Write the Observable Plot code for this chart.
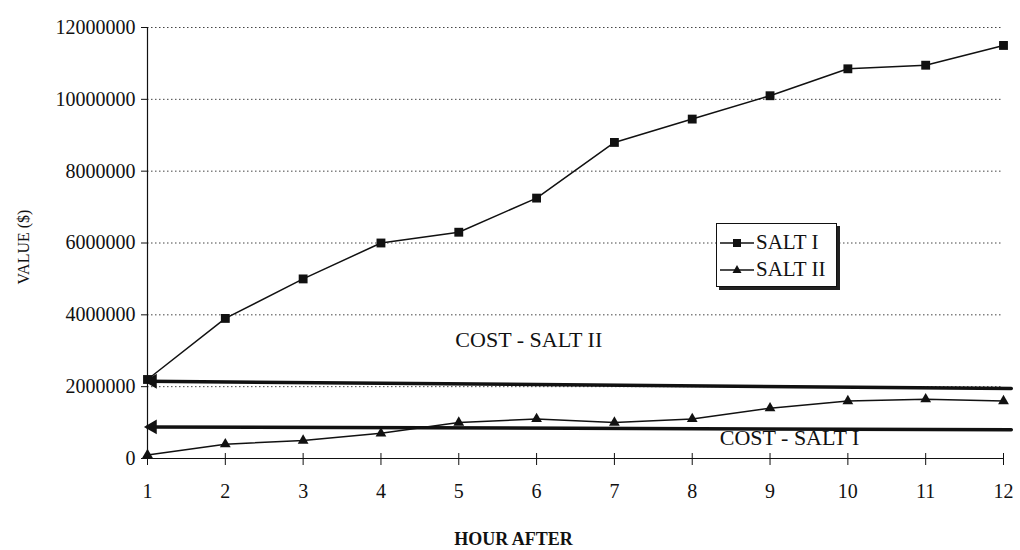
<!DOCTYPE html>
<html><head><meta charset="utf-8">
<script src="https://cdn.jsdelivr.net/npm/d3@7"></script>
<script src="https://cdn.jsdelivr.net/npm/@observablehq/plot@0.6"></script>
<style>
body{margin:0;background:#fff;}
#wrap{position:relative;width:1020px;height:550px;font-family:"Liberation Serif","Times New Roman",serif;color:#111;}
#legend{position:absolute;left:716px;top:223px;width:121px;height:64px;border:1.5px solid #111;background:#fff;box-shadow:3px 3px 0 #222;box-sizing:border-box;padding-top:5px;}
#legend .row{display:flex;align-items:center;height:27px;font-size:21px;padding-left:3px;}
#legend svg{margin-right:2px;}
</style></head>
<body><div id="wrap"></div>
<script>
const hours = [1,2,3,4,5,6,7,8,9,10,11,12];
const saltI = [2200000,3900000,5000000,6000000,6300000,7250000,8800000,9450000,10100000,10850000,10950000,11500000];
const saltII = [100000,400000,500000,700000,1000000,1100000,1000000,1100000,1400000,1600000,1650000,1600000];
const costHours = [1,12.1];
const costSaltII = [2150000,1950000];
const costSaltI = [880000,800000];
const yTicks = [0,2000000,4000000,6000000,8000000,10000000,12000000];
const seriesNames = ["SALT I","SALT II"];
const costLabels = ["COST - SALT II","COST - SALT I"];
const costLabelX = [5.9,9.25];
const costLabelY = [3300000,580000];
const xTitle = "HOUR AFTER";
const yTitle = "VALUE ($)";

const s1 = hours.map((h,i)=>({x:h,y:saltI[i]}));
const s2 = hours.map((h,i)=>({x:h,y:saltII[i]}));
const c2 = costHours.map((h,i)=>({x:h,y:costSaltII[i]}));
const c1 = costHours.map((h,i)=>({x:h,y:costSaltI[i]}));
const arrows = [{x:costHours[0],y:costSaltII[0]},{x:costHours[0],y:costSaltI[0]}];
const labels = costLabels.map((t,i)=>({t,x:costLabelX[i],y:costLabelY[i]}));

const chart = Plot.plot({
  width:1020, height:550,
  marginLeft:147, marginRight:17, marginTop:27, marginBottom:92,
  style:{fontFamily:'"Liberation Serif","Times New Roman",serif', fontSize:"20px", color:"#111", background:"#fff"},
  x:{domain:[1,12]},
  y:{domain:[0,12000000]},
  marks:[
    Plot.ruleY(yTicks.filter(d=>d>0), {stroke:"#444", strokeWidth:1, strokeDasharray:"1.5,2.5"}),
    Plot.axisY({ticks:yTicks, tickSize:6, tickPadding:6, tickFormat:d=>String(d), fontSize:20, label:null}),
    Plot.axisX({ticks:hours, tickSize:0, tickPadding:25, tickFormat:d=>String(d), fontSize:20, label:null}),
    Plot.ruleX([1], {stroke:"#111", strokeWidth:1.2}),
    Plot.ruleY([0], {stroke:"#111", strokeWidth:1.2}),
    Plot.tickX(hours, {x:d=>d, insetTop:426, insetBottom:-7, stroke:"#111"}),
    Plot.line(c2, {x:"x", y:"y", stroke:"#111", strokeWidth:3.5, clip:false}),
    Plot.line(c1, {x:"x", y:"y", stroke:"#111", strokeWidth:3.5, clip:false}),
    Plot.dot(arrows, {x:"x", y:"y", symbol:"triangle", rotate:-90, r:5.5, fill:"#111", dx:5}),
    Plot.line(s1, {x:"x", y:"y", stroke:"#111", strokeWidth:1.5}),
    Plot.dot(s1, {x:"x", y:"y", symbol:"square", r:5, fill:"#111"}),
    Plot.line(s2, {x:"x", y:"y", stroke:"#111", strokeWidth:1.5}),
    Plot.dot(s2, {x:"x", y:"y", symbol:"triangle", r:4, fill:"#111"}),
    Plot.text(labels, {x:"x", y:"y", text:"t", fontSize:22, fill:"#111"}),
    Plot.text([xTitle], {frameAnchor:"bottom", dx:-62, dy:86, fontSize:18, fontWeight:"bold", fill:"#111"}),
    Plot.text([yTitle], {frameAnchor:"left", textAnchor:"middle", dx:-124, dy:4, rotate:-90, fontSize:16, fill:"#111"})
  ]
});
const wrap = document.getElementById("wrap");
wrap.appendChild(chart);

const legend = document.createElement("div");
legend.id = "legend";
seriesNames.forEach((name,i)=>{
  const row = document.createElement("div");
  row.className = "row";
  const sym = i===0
    ? '<rect x="13" y="4" width="8" height="8" fill="#111"/>'
    : '<path d="M17,3 L21.5,11 L12.5,11 Z" fill="#111"/>';
  row.innerHTML = '<svg width="34" height="16"><line x1="0" y1="8" x2="34" y2="8" stroke="#111" stroke-width="1.6"/>' + sym + '</svg><span>' + name + '</span>';
  legend.appendChild(row);
});
wrap.appendChild(legend);
</script>
</body></html>
